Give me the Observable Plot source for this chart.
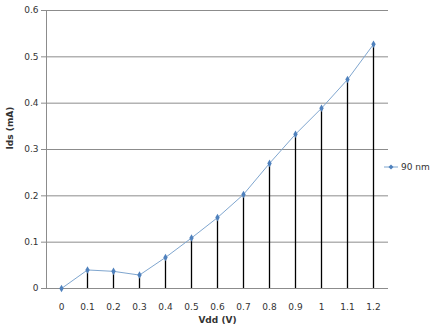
<!DOCTYPE html>
<html><head><meta charset="utf-8">
<script src="https://cdn.jsdelivr.net/npm/d3@7"></script>
<script src="https://cdn.jsdelivr.net/npm/@observablehq/plot@0.6"></script>
<style>
body{margin:0;background:#fff;font-family:"DejaVu Sans",sans-serif;}
#wrap{position:relative;width:442px;height:332px;}
#legend{position:absolute;left:384px;top:162px;font-size:9px;color:#333;display:flex;align-items:center;gap:3px;}
</style></head>
<body><div id="wrap"><div id="legend"><svg width="14" height="8"><line x1="0" y1="4" x2="14" y2="4" stroke="#7fa6cf" stroke-width="1"/><path d="M7 1.5L9.5 4L7 6.5L4.5 4Z" fill="#4f81bd"/></svg><span>90 nm</span></div></div>
<script>
const vdd = ["0","0.1","0.2","0.3","0.4","0.5","0.6","0.7","0.8","0.9","1","1.1","1.2"];
const ids = [0, 0.040, 0.037, 0.029, 0.067, 0.109, 0.153, 0.203, 0.270, 0.333, 0.389, 0.451, 0.527];
const yTicks = [0, 0.1, 0.2, 0.3, 0.4, 0.5, 0.6];
const seriesName = "90 nm";

const data = vdd.map((v, i) => ({vdd: v, ids: ids[i]}));

const chart = Plot.plot({
  width: 442, height: 332,
  marginLeft: 46, marginRight: 54, marginTop: 10, marginBottom: 44,
  style: {fontFamily: "DejaVu Sans, sans-serif", fontSize: "9px", color: "#333", background: "#fff"},
  x: {type: "point", domain: vdd, padding: 0.5},
  y: {domain: [0, 0.6], ticks: yTicks},
  marks: [
    Plot.gridY(yTicks, {stroke: "#8c8c8c", strokeOpacity: 1}),
    Plot.frame({anchor: "left", stroke: "#8c8c8c"}),
    Plot.axisY(yTicks, {tickSize: 5, stroke: "#8c8c8c", tickPadding: 3, tickFormat: d => String(d), label: null}),
    Plot.axisX({tickSize: 0, tickPadding: 15, label: null}),
    Plot.ruleX(data.filter(d => d.vdd !== "0"), {x: "vdd", y1: 0, y2: "ids", stroke: "#000", strokeWidth: 1.3}),
    Plot.line(data, {x: "vdd", y: "ids", stroke: "#7fa6cf", strokeWidth: 1}),
    Plot.dot(data, {x: "vdd", y: "ids", symbol: "diamond", r: 2.3, fill: "#4f81bd", stroke: "none"}),
    Plot.text(["Ids (mA)"], {frameAnchor: "left", dx: -36, rotate: -90, fontWeight: "bold", fontSize: 9}),
    Plot.text(["Vdd (V)"], {frameAnchor: "bottom", dy: 34, fontWeight: "bold", fontSize: 9})
  ]
});
document.getElementById("wrap").prepend(chart);
</script></body></html>
